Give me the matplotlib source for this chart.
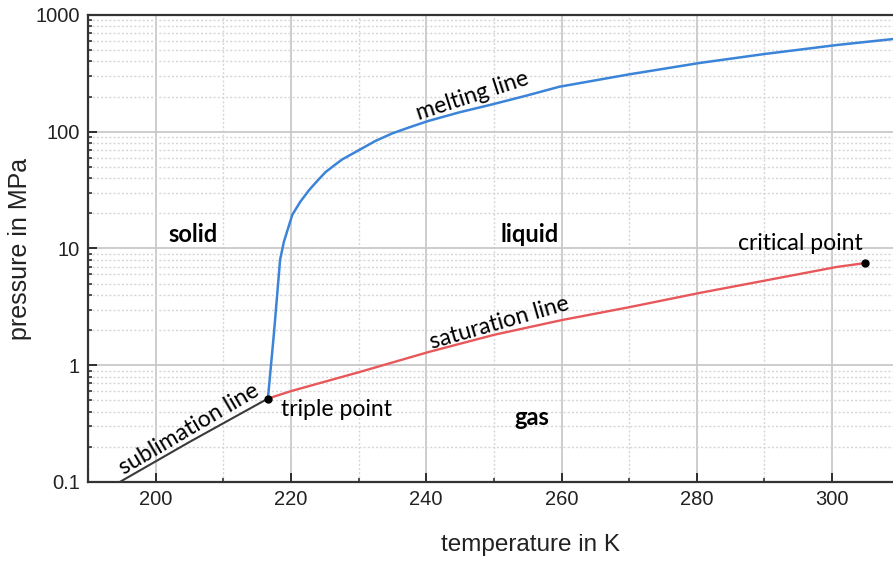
import matplotlib
matplotlib.use("Agg")
import matplotlib.pyplot as plt
from matplotlib.ticker import MultipleLocator, FixedLocator, NullFormatter

# ---- data ----
melt_T = [216.6, 217.5, 218.4, 218.96, 220.2, 221.4, 222.7, 224.0, 225.1, 226.4, 227.6, 230.1,
          232.5, 235.0, 237.5, 240.3, 244.9, 249.8, 254.8, 259.7, 270.0, 280.4,
          290.0, 300.7, 309.0]
melt_p = [0.518, 1.9, 8.0, 11.4, 19.4, 25.2, 31.7, 38.5, 45.0, 51.5, 58.0, 69.8,
          83.4, 96.9, 109.0, 123.6, 146.6, 171.7, 203.7, 243.0, 310.0, 388.0,
          463.0, 553.0, 622.0]

sat_T = [216.6, 220.0, 230.0, 240.4, 250.0, 260.1, 270.0, 280.4, 290.0, 300.7, 304.9]
sat_p = [0.518, 0.60, 0.87, 1.30, 1.82, 2.44, 3.14, 4.16, 5.30, 6.95, 7.5]

sub_T = [194.7, 205.0, 216.6]
sub_p = [0.1, 0.22, 0.518]

triple = (216.6, 0.518)
critical = (304.9, 7.5)

x_ticks = [200, 220, 240, 260, 280, 300]
y_ticks = [0.1, 1, 10, 100, 1000]
y_tick_labels = ["0.1", "1", "10", "100", "1000"]

# ---- figure ----
fig = plt.figure(figsize=(8.93, 5.63), dpi=100)
ax = fig.add_axes([0.0985, 0.1439, 0.9015, 0.8295])

ax.set_yscale("log")
ax.set_xlim(190, 309)
ax.set_ylim(0.1, 1000)

ax.plot(sub_T, sub_p, color="#3a3a3a", lw=1.5, zorder=3)
ax.plot(sat_T, sat_p, color="#e8585a", lw=1.7, zorder=3)
ax.plot(melt_T, melt_p, color="#3b84d8", lw=1.8, zorder=3, solid_joinstyle="round")
ax.plot([triple[0], critical[0]], [triple[1], critical[1]], "o", color="black",
        ms=5, ls="none", zorder=4)

# ticks
ax.xaxis.set_major_locator(FixedLocator(x_ticks))
ax.xaxis.set_minor_locator(MultipleLocator(10))
ax.yaxis.set_major_locator(FixedLocator(y_ticks))
ax.set_yticklabels(y_tick_labels)
ax.yaxis.set_minor_locator(FixedLocator(
    [m * 10.0 ** e for e in range(-1, 3) for m in range(2, 10)]))
ax.yaxis.set_minor_formatter(NullFormatter())
ax.tick_params(which="major", direction="in", length=6.5, width=1.3,
               color="#222222", labelsize=14.5, labelcolor="#222222", pad=6)
ax.tick_params(which="minor", direction="in", length=3, width=1.1, color="#222222")
for lab in ax.get_xticklabels() + ax.get_yticklabels():
    lab.set_family("Liberation Sans")

# grid
ax.grid(which="major", color="#c9c9c9", lw=1.3, ls="-", zorder=0)
ax.grid(which="minor", color="#d6d6d6", lw=1.0, ls=(0, (1.5, 1.5)), zorder=0)
ax.set_axisbelow(True)

for s in ["left", "bottom", "top"]:
    ax.spines[s].set_color("#333333")
    ax.spines[s].set_linewidth(1.6)
ax.spines["right"].set_visible(False)

ax.set_xlabel("temperature in K", family="Liberation Sans", fontsize=17.5, color="#222222")
ax.xaxis.set_label_coords(0.55, -0.112)
ax.set_ylabel("pressure in MPa", family="Liberation Sans", fontsize=18, color="#222222")
ax.yaxis.set_label_coords(-0.07, 0.5)

tf = "Lato"
fs = 16.6
fsb = 17
ax.text(205.6, 13.1, "solid", family=tf, fontsize=fsb, fontweight="bold", ha="center", va="center")
ax.text(255.3, 13.1, "liquid", family=tf, fontsize=fsb, fontweight="bold", ha="center", va="center")
ax.text(255.6, 0.36, "gas", family=tf, fontsize=fsb, fontweight="bold", ha="center", va="center")
ax.text(218.5, 0.414, "triple point", family=tf, fontsize=fs, ha="left", va="center")
ax.text(304.6, 11.1, "critical point", family=tf, fontsize=fs, ha="right", va="center")
ax.text(246.8, 202, "melting line", family=tf, fontsize=fs, ha="center", va="center",
        rotation=18, rotation_mode="anchor")
ax.text(250.8, 2.30, "saturation line", family=tf, fontsize=fs, ha="center", va="center",
        rotation=16, rotation_mode="anchor")
ax.text(205.0, 0.284, "sublimation line", family=tf, fontsize=fs, ha="center", va="center",
        rotation=30.5, rotation_mode="anchor")

fig.savefig("out.png", dpi=100)
